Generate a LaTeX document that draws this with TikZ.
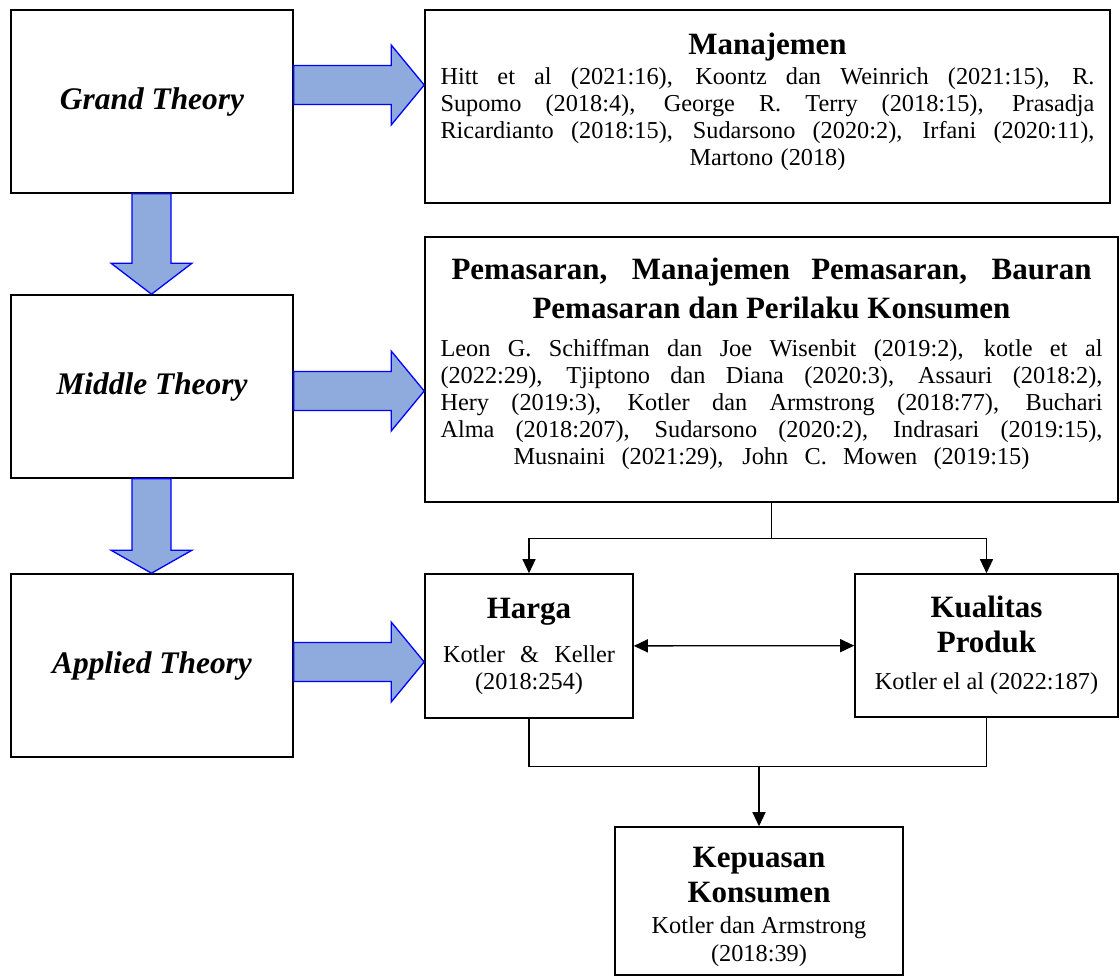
\documentclass[tikz,border=0pt]{standalone}
\usepackage{fontspec}
\setmainfont{Liberation Serif}
\usetikzlibrary{arrows.meta,calc}
\definecolor{arrowblue}{HTML}{8FAADC}
\newcommand{\titlefont}{\fontsize{31}{35}\selectfont\bfseries}
\newcommand{\bodyfont}{\fontsize{24.3}{27}\selectfont}
\newcommand{\theoryfont}{\fontsize{31.4}{35}\selectfont\bfseries\itshape}
% one line of a box, spread to a given width
\newcommand{\fillline}[2]{\makebox[#1pt][s]{#2}}
% big block arrow from one box to the next, at the height of a row coordinate
\newcommand{\blockright}[3]{%
  \filldraw[blockarrow] ($(#1.east |- #3)+(0,-19.5)$)
    -- ($(#2.west |- #3)+(-33,-19.5)$) -- ($(#2.west |- #3)+(-33,-40)$)
    -- (#2.west |- #3) -- ($(#2.west |- #3)+(-33,40)$)
    -- ($(#2.west |- #3)+(-33,19.5)$) -- ($(#1.east |- #3)+(0,19.5)$) -- cycle;}
\newcommand{\blockdown}[4]{%
  \filldraw[blockarrow] ($(#1.south -| #3)+(-19.5,0)$)
    -- ($(#2.north -| #3)+(-19.5,-#4)$) -- ($(#2.north -| #3)+(-40.5,-#4)$)
    -- (#2.north -| #3) -- ($(#2.north -| #3)+(40.5,-#4)$)
    -- ($(#2.north -| #3)+(19.5,-#4)$) -- ($(#1.south -| #3)+(19.5,0)$) -- cycle;}
\begin{document}
\begin{tikzpicture}[x=1pt, y=-1pt,
  box/.style={draw, line width=1.6pt, align=center, inner sep=0pt, font=\bodyfont},
  textblock/.style={align=center, inner sep=0pt, font=\bodyfont},
  theory/.style={box, minimum width=282, minimum height=183, font=\theoryfont},
  blockarrow/.style={fill=arrowblue, draw=blue, line width=1.3pt, line join=miter},
  line/.style={line width=1.3pt},
  conn/.style={line, -{Triangle[length=14pt,width=13pt]}},
  biconn/.style={line, {Triangle[length=14pt,width=13pt]}-{Triangle[length=14pt,width=13pt]}}]
\useasboundingbox (0,0) rectangle (1120,980);
% theory column
\node [theory] (grand) at (152,101.5) {Grand Theory};
\node [theory] (middle) at (152,386.5) {Middle Theory};
\node [theory] (applied) at (152,665.5) {Applied Theory};
% right column
\node [box, minimum width=685, minimum height=193] (mgmt) at (767.5,106.5) {};
\node [textblock] (mgmttext) at ($(mgmt)+(0,-5)$)
  {{\titlefont Manajemen}\\[3pt]
   \fillline{654}{Hitt et al (2021:16), Koontz dan Weinrich (2021:15), R.}\\
   \fillline{654}{Supomo (2018:4), George R. Terry (2018:15), Prasadja}\\
   \fillline{654}{Ricardianto (2018:15), Sudarsono (2020:2), Irfani (2020:11),}\\
   \fillline{156}{Martono (2018)}};
\node [box, minimum width=693, minimum height=265] (mkt) at (771.5,369.5) {};
\node [textblock] (mkttext) at ($(mkt)+(0,-6)$)
  {{\titlefont \fillline{640}{Pemasaran, Manajemen Pemasaran, Bauran}}\\[10pt]
   {\titlefont Pemasaran dan Perilaku Konsumen}\\[11pt]
   \fillline{662}{Leon G. Schiffman dan Joe Wisenbit (2019:2), kotle et al}\\
   \fillline{662}{(2022:29), Tjiptono dan Diana (2020:3), Assauri (2018:2),}\\
   \fillline{662}{Hery (2019:3), Kotler dan Armstrong (2018:77), Buchari}\\
   \fillline{662}{Alma (2018:207), Sudarsono (2020:2), Indrasari (2019:15),}\\
   \fillline{516}{Musnaini (2021:29), John C. Mowen (2019:15)}};
\node [box, minimum width=208, minimum height=144] (harga) at (529,646)
  {{\titlefont Harga}\\[17pt]
   \fillline{172}{Kotler \& Keller}\\
   (2018:254)};
\node [box, minimum width=263, minimum height=143] (kualitas) at (986.5,645.5)
  {{\titlefont Kualitas}\\[7.5pt]
   {\titlefont Produk}\\[10pt]
   Kotler el al (2022:187)};
\node [box, minimum width=288, minimum height=148] (kepuasan) at (759,901) {};
\node [textblock] (kepuasantext) at ($(kepuasan)+(0,6)$)
  {{\titlefont Kepuasan}\\[7.5pt]
   {\titlefont Konsumen}\\[4pt]
   Kotler dan Armstrong\\[1pt]
   (2018:39)};
% block arrows
\coordinate (r1) at (0,85);
\coordinate (r2) at (0,391);
\coordinate (r3) at (0,662);
\coordinate (dcol) at (151.5,0);
\blockright{grand}{mgmt}{r1}
\blockright{middle}{mkt}{r2}
\blockright{applied}{harga}{r3}
\blockdown{grand}{middle}{dcol}{31}
\blockdown{middle}{applied}{dcol}{23}
% connectors
\draw [line] (mkt.south) -- ++(0,36) coordinate (split);
\draw [conn] (split) -| (harga.north);
\draw [conn] (split) -| (kualitas.north);
\draw [biconn] (harga) -- (kualitas);
\draw [line] (harga.south) -- ++(0,48) coordinate (merge) -| (kualitas.south);
\draw [conn] (merge -| kepuasan.north) -- (kepuasan.north);
\end{tikzpicture}
\end{document}
